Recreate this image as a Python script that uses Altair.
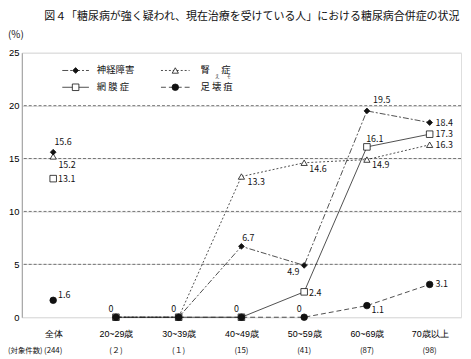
import altair as alt
import pandas as pd

# ---------------- data ----------------
categories = ["全体", "20~29歳", "30~39歳", "40~49歳", "50~59歳", "60~69歳", "70歳以上"]
counts = ["(244)", "(２)", "(１)", "(15)", "(41)", "(87)", "(98)"]
series = ["神経障害", "腎症", "網膜症", "足壊疽"]
legend_labels = ["神経障害", "腎　 症", "網 膜 症", "足 壊 疽"]

shinkei = [15.6, 0, 0, 6.7, 4.9, 19.5, 18.4]
jinsho = [15.2, 0, 0, 13.3, 14.6, 14.9, 16.3]
moumaku = [13.1, 0, 0, 0, 2.4, 16.1, 17.3]
sokueso = [1.6, 0, 0, 0, 0, 1.1, 3.1]

values = {"神経障害": shinkei, "腎症": jinsho, "網膜症": moumaku, "足壊疽": sokueso}
y_ticks = [0, 5, 10, 15, 20, 25]
grid_values = [5, 10, 15, 20]

title_text = "図４「糖尿病が強く疑われ、現在治療を受けている人」における糖尿病合併症の状況"

# ---------------- styles ----------------
FONT = "Noto Sans CJK JP"
W, H = 445, 268
INK = "#111111"

style = {
    "神経障害": dict(shape="diamond", size=34, filled=True, dash=[6, 2, 2, 2]),
    "腎症": dict(shape="triangle-up", size=40, filled=False, dash=[2, 2]),
    "網膜症": dict(shape="square", size=44, filled=False, dash=None),
    "足壊疽": dict(shape="circle", size=44, filled=True, dash=[5, 3]),
}

# label placement per series & category: (align, dx, dy) or None
placement = {
    "神経障害": [("center", 10, -10), None, None, ("center", 7, -8), ("center", -11, 7),
             ("center", 15, -11), ("left", 6, 0)],
    "腎症": [("center", 14, 9), None, None, ("center", 15, 6), ("center", 14, 6),
           ("center", 14, 6), ("left", 6, 0)],
    "網膜症": [("left", 5, 0), None, None, None, ("left", 5, 1), ("center", 8, -8), ("left", 6, 0)],
    "足壊疽": [("left", 5, -5), ("center", -5, -8), ("center", -5, -8), ("center", -5, -8),
            ("center", -5, -8), ("center", 11, 5), ("left", 6, 0)],
}

# ---------------- tables ----------------
rows = []
for s in series:
    for c, v in zip(categories, values[s]):
        rows.append({"series": s, "cat": c, "v": v, "label": f"{v:g}"})
df = pd.DataFrame(rows)

x_enc = alt.X("cat:N", sort=categories,
              scale=alt.Scale(type="point", domain=categories, padding=0.5),
              axis=alt.Axis(title=None, labelAngle=0, ticks=False, labelPadding=13,
                            labelFontSize=9, domain=False))
y_enc = alt.Y("v:Q", scale=alt.Scale(domain=[0, 25], nice=False, zero=True),
              axis=alt.Axis(title=None, values=y_ticks, ticks=False, labelPadding=3,
                            labelFontSize=9.5, domainColor="#999999"))

layers = []

# dashed grid lines
grid = alt.Chart(pd.DataFrame({"v": grid_values})).mark_rule(
    color="#555555", strokeWidth=0.8, strokeDash=[3, 2]
).encode(y=y_enc)
layers.append(grid)

# lines (without 全体)
for s in series:
    st = style[s]
    sub = df[(df.series == s) & (df.cat != categories[0])]
    kw = dict(color="#222222", strokeWidth=0.8)
    if st["dash"]:
        kw["strokeDash"] = st["dash"]
    layers.append(alt.Chart(sub).mark_line(**kw).encode(x=x_enc, y=y_enc, order=alt.Order("idx:Q"))
                  .transform_calculate(idx=f"indexof({categories}, datum.cat)"))

# points
for s in ["腎症", "網膜症", "神経障害", "足壊疽"]:
    st = style[s]
    sub = df[df.series == s]
    layers.append(alt.Chart(sub).mark_point(
        shape=st["shape"], size=st["size"], filled=st["filled"],
        fill=INK if st["filled"] else "white", stroke=INK,
        strokeWidth=0.8, opacity=1
    ).encode(x=x_enc, y=y_enc))

# data labels grouped by placement
groups = {}
for s in series:
    for i, c in enumerate(categories):
        p = placement[s][i]
        if p is None:
            continue
        v = values[s][i]
        groups.setdefault(p, []).append({"cat": c, "v": v, "label": f"{v:g}"})
for (align, dx, dy), recs in groups.items():
    layers.append(alt.Chart(pd.DataFrame(recs)).mark_text(
        align=align, baseline="middle", dx=dx, dy=dy, font=FONT, fontSize=9, color=INK
    ).encode(x=x_enc, y=y_enc, text="label:N"))

# sample counts under category labels
cnt_df = pd.DataFrame({"cat": categories, "n": counts})
layers.append(alt.Chart(cnt_df).mark_text(
    baseline="middle", font=FONT, fontSize=8, color=INK
).encode(x=x_enc, y=alt.value(H + 34), text="n:N"))

one = pd.DataFrame({"a": [0]})
layers.append(alt.Chart(one).mark_text(
    align="left", baseline="middle", font=FONT, fontSize=7.5, color=INK, text="(対象件数)"
).encode(x=alt.value(-14), y=alt.value(H + 34)))

# (%) and title
layers.append(alt.Chart(one).mark_text(
    align="left", baseline="middle", font=FONT, fontSize=10, color=INK, text="(%)"
).encode(x=alt.value(-14), y=alt.value(-18)))
layers.append(alt.Chart(one).mark_text(
    align="center", baseline="middle", font=FONT, fontSize=11.1, color=INK, text=title_text
).encode(x=alt.value(233), y=alt.value(-36)))

# custom legend
leg_line_x = [(41, 68), (141, 170)]
leg_text_x = [76, 181]
leg_row_y = [18, 35]
for i, s in enumerate(series):
    st = style[s]
    col, row = i % 2, i // 2
    x0, x1 = leg_line_x[col]
    yy = leg_row_y[row]
    kw = dict(color="#222222", strokeWidth=0.8)
    if st["dash"]:
        kw["strokeDash"] = st["dash"]
    layers.append(alt.Chart(one).mark_rule(**kw).encode(
        x=alt.value(x0), x2=alt.value(x1), y=alt.value(yy)))
    layers.append(alt.Chart(one).mark_point(
        shape=st["shape"], size=st["size"], filled=st["filled"],
        fill=INK if st["filled"] else "white", stroke=INK, strokeWidth=0.8, opacity=1
    ).encode(x=alt.value((x0 + x1) / 2), y=alt.value(yy)))
    layers.append(alt.Chart(one).mark_text(
        align="left", baseline="middle", font=FONT, fontSize=9.5, color=INK, text=legend_labels[i]
    ).encode(x=alt.value(leg_text_x[col]), y=alt.value(yy)))

# furigana for 壊疽
for ch, xx in [("え", 198), ("そ", 210)]:
    layers.append(alt.Chart(one).mark_text(
        align="center", baseline="middle", font=FONT, fontSize=4.5, color=INK, text=ch
    ).encode(x=alt.value(xx), y=alt.value(25)))

chart = alt.layer(*layers).properties(
    width=W, height=H,
    autosize=alt.AutoSizeParams(type="none"),
    padding={"left": 14, "top": 43, "right": 2, "bottom": 40},
).configure_view(stroke="#999999", strokeWidth=1).configure_axis(
    labelFont=FONT, labelColor=INK, grid=False
).configure(background="white")

chart.save("out.html", embed_options={"renderer": "svg", "actions": False})
